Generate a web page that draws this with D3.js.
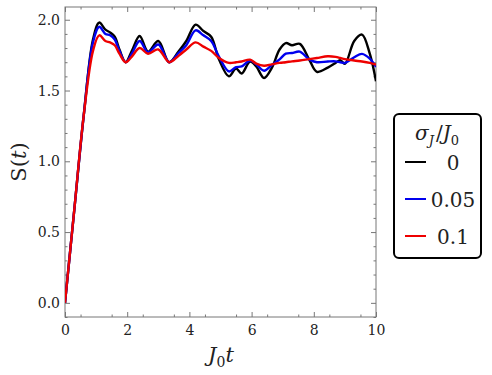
<!DOCTYPE html>
<html>
<head>
<meta charset="utf-8">
<script src="https://cdn.jsdelivr.net/npm/d3@7"></script>
<style>
  body { margin: 0; background: white; }
  svg { display: block; }
  svg text { font-family: "DejaVu Serif", "Liberation Serif", serif; }
</style>
</head>
<body>
<svg width="492" height="375"></svg>
<script>
// time points (J0 t)
var times = [0, 0.3, 0.6, 0.9, 1.1, 1.3, 1.45, 1.6, 1.75, 1.95, 2.15, 2.4, 2.67, 3.0, 3.35,
  3.65, 3.9, 4.2, 4.45, 4.7, 4.95, 5.27, 5.5, 5.68, 5.95, 6.15, 6.4, 6.65, 6.9, 7.1,
  7.3, 7.55, 7.85, 8.1, 8.45, 8.7, 8.85, 9.0, 9.3, 9.55, 9.8, 10];

// S(t) for sigma_J/J0 = 0
var s0 = [0, 0.66, 1.32, 1.86, 1.98, 1.93, 1.91, 1.88, 1.79, 1.70, 1.78, 1.885, 1.775, 1.85, 1.70,
  1.775, 1.85, 1.965, 1.92, 1.88, 1.72, 1.60, 1.655, 1.62, 1.705, 1.67, 1.588, 1.66, 1.79, 1.835,
  1.82, 1.83, 1.72, 1.632, 1.662, 1.695, 1.715, 1.688, 1.85, 1.895, 1.76, 1.565];

// sigma_J/J0 = 0.05
var s005 = [0, 0.66, 1.32, 1.84, 1.95, 1.90, 1.89, 1.86, 1.78, 1.70, 1.76, 1.85, 1.77, 1.825, 1.70,
  1.765, 1.82, 1.925, 1.89, 1.85, 1.74, 1.635, 1.665, 1.67, 1.712, 1.685, 1.64, 1.68, 1.72, 1.76,
  1.765, 1.775, 1.72, 1.70, 1.705, 1.706, 1.70, 1.695, 1.735, 1.759, 1.725, 1.667];

// sigma_J/J0 = 0.1
var s01 = [0, 0.66, 1.32, 1.78, 1.89, 1.85, 1.84, 1.82, 1.76, 1.70, 1.74, 1.80, 1.76, 1.79, 1.70,
  1.745, 1.79, 1.84, 1.81, 1.78, 1.73, 1.695, 1.70, 1.705, 1.718, 1.69, 1.675, 1.685, 1.695, 1.70,
  1.706, 1.712, 1.722, 1.73, 1.742, 1.738, 1.73, 1.722, 1.712, 1.705, 1.695, 1.683];

var legendLabels = ['0', '0.05', '0.1'];
var colors = ['black', '#0000ee', '#ee0000'];
var xTicks = [0, 2, 4, 6, 8, 10];
var yTicks = [0.0, 0.5, 1.0, 1.5, 2.0];

function draw() {
  var svg = d3.select('svg');

  var pLeft = 65, pRight = 376, pTop = 7, pBottom = 317;

  var x = d3.scaleLinear().domain([0, 10]).range([pLeft, pRight]);
  var y = d3.scaleLinear().domain([-0.1, 2.09]).range([pBottom, pTop]);

  var frameColor = '#777';

  // minor tick values
  var xMinor = d3.range(1, 20, 2).map(function(v) { return v / 2; });
  var yMinor = d3.range(-1, 21).filter(function(v) { return v % 5 != 0; })
    .map(function(v) { return v / 10; });

  function styleAxis(g) {
    g.attr('font-size', null).attr('font-family', null);
    g.select('.domain').remove();
    g.selectAll('line').attr('stroke', frameColor).attr('stroke-width', 1);
    g.selectAll('text').attr('fill', '#222').style('font-size', '14px');
  }

  function addAxis(axis, tx, ty) {
    svg.append('g')
      .attr('transform', 'translate(' + tx + ',' + ty + ')')
      .call(axis)
      .call(styleAxis);
  }

  // bottom
  addAxis(d3.axisBottom(x).tickValues(xTicks).tickFormat(d3.format('d'))
    .tickSizeInner(-5).tickSizeOuter(0).tickPadding(8), 0, pBottom);
  addAxis(d3.axisBottom(x).tickValues(xMinor).tickFormat('')
    .tickSizeInner(-2.5).tickSizeOuter(0), 0, pBottom);
  // top
  addAxis(d3.axisTop(x).tickValues(xTicks).tickFormat('')
    .tickSizeInner(-5).tickSizeOuter(0), 0, pTop);
  addAxis(d3.axisTop(x).tickValues(xMinor).tickFormat('')
    .tickSizeInner(-2.5).tickSizeOuter(0), 0, pTop);
  // left
  addAxis(d3.axisLeft(y).tickValues(yTicks).tickFormat(d3.format('.1f'))
    .tickSizeInner(-5).tickSizeOuter(0).tickPadding(5), pLeft, 0);
  addAxis(d3.axisLeft(y).tickValues(yMinor).tickFormat('')
    .tickSizeInner(-2.5).tickSizeOuter(0), pLeft, 0);
  // right
  addAxis(d3.axisRight(y).tickValues(yTicks).tickFormat('')
    .tickSizeInner(-5).tickSizeOuter(0), pRight, 0);
  addAxis(d3.axisRight(y).tickValues(yMinor).tickFormat('')
    .tickSizeInner(-2.5).tickSizeOuter(0), pRight, 0);

  // frame
  svg.append('rect')
    .attr('x', pLeft).attr('y', pTop)
    .attr('width', pRight - pLeft).attr('height', pBottom - pTop)
    .attr('fill', 'none')
    .attr('stroke', frameColor)
    .attr('stroke-width', 1);

  // curves
  var series = [s0, s005, s01];
  var line = d3.line()
    .x(function(d) { return x(d[0]); })
    .y(function(d) { return y(d[1]); })
    .curve(d3.curveCatmullRom.alpha(0.5));

  svg.append('defs').append('clipPath').attr('id', 'clip')
    .append('rect').attr('x', pLeft).attr('y', pTop)
    .attr('width', pRight - pLeft).attr('height', pBottom - pTop);

  series.forEach(function(s, i) {
    svg.append('path')
      .datum(times.map(function(t, j) { return [t, s[j]]; }))
      .attr('d', line)
      .attr('fill', 'none')
      .attr('stroke', colors[i])
      .attr('stroke-width', 2.4)
      .attr('clip-path', 'url(#clip)');
  });

  // axis labels
  var xl = svg.append('text')
    .attr('x', 221).attr('y', 362)
    .attr('text-anchor', 'middle')
    .style('font-size', '21px').attr('fill', '#222');
  xl.append('tspan').style('font-style', 'italic').text('J');
  xl.append('tspan').attr('dy', 5).style('font-size', '14px').text('0');
  xl.append('tspan').attr('dy', -5).style('font-style', 'italic').text('t');

  var yl = svg.append('text')
    .attr('transform', 'translate(26,162) rotate(-90)')
    .attr('text-anchor', 'middle')
    .style('font-size', '21px').attr('fill', '#222');
  yl.append('tspan').text('S(');
  yl.append('tspan').style('font-style', 'italic').text('t');
  yl.append('tspan').text(')');

  // legend
  var lg = svg.append('g');
  lg.append('rect')
    .attr('x', 394).attr('y', 114)
    .attr('width', 87).attr('height', 144)
    .attr('rx', 5)
    .attr('fill', 'white')
    .attr('stroke', 'black')
    .attr('stroke-width', 2);

  var title = lg.append('text')
    .attr('x', 437).attr('y', 140)
    .attr('text-anchor', 'middle')
    .style('font-size', '20px').attr('fill', '#222');
  title.append('tspan').style('font-style', 'italic').text('σ');
  title.append('tspan').attr('dy', 5).style('font-size', '13px').style('font-style', 'italic').text('J');
  title.append('tspan').attr('dy', -5).attr('dx', 2).text('/');
  title.append('tspan').style('font-style', 'italic').text('J');
  title.append('tspan').attr('dy', 5).style('font-size', '13px').text('0');

  legendLabels.forEach(function(lab, i) {
    var ly = 162 + i * 37;
    lg.append('line')
      .attr('x1', 405).attr('x2', 426)
      .attr('y1', ly).attr('y2', ly)
      .attr('stroke', colors[i]).attr('stroke-width', 2);
    lg.append('text')
      .attr('x', 453).attr('y', ly + 8)
      .attr('text-anchor', 'middle')
      .style('font-size', '20px').attr('fill', '#222')
      .text(lab);
  });
}

draw();
</script>
</body>
</html>
